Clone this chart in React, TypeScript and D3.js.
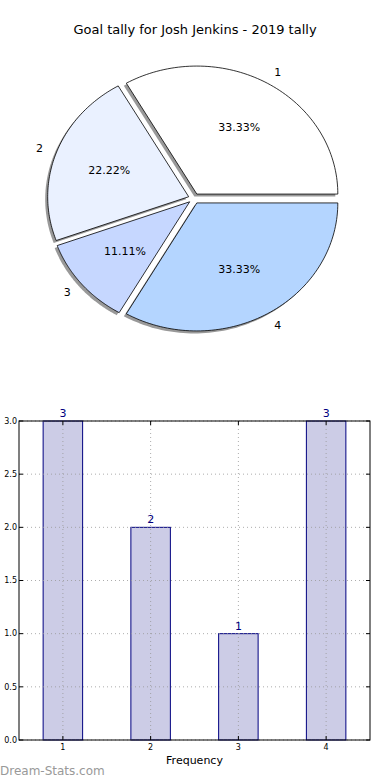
import React from "react";
import * as d3 from "d3";

const sliceLabels = ["1", "2", "3", "4"];
const sliceValues = [3, 2, 1, 3];
const sliceColors = ["#ffffff", "#eaf1ff", "#c6d7ff", "#b4d5ff"];
const barCategories = [1, 2, 3, 4];
const barValues = [3, 2, 1, 3];
const yTicks = [0, 0.5, 1.0, 1.5, 2.0, 2.5, 3.0];

const W = 390;
const H = 780;

export default function App() {
  // Pie geometry (elliptical, matplotlib-like)
  const cx = 194;
  const cy = 198.5;
  const rx = 141;
  const ry = 128;
  const explode = 0.04;
  const total = d3.sum(sliceValues);
  const angleScale = d3.scaleLinear().domain([0, total]).range([0, 2 * Math.PI]);
  let acc = 0;
  const slices = sliceValues.map((v, i) => {
    const a0 = angleScale(acc);
    acc += v;
    const a1 = angleScale(acc);
    return { a0, a1, v, i };
  });
  const pt = (a: number, r: number, ox: number, oy: number) => [
    ox + r * rx * Math.cos(a),
    oy - r * ry * Math.sin(a),
  ];
  const slicePath = (a0: number, a1: number, ox: number, oy: number) => {
    const steps = 80;
    const p = d3.path();
    p.moveTo(ox, oy);
    for (let k = 0; k <= steps; k++) {
      const a = a0 + ((a1 - a0) * k) / steps;
      const [x, y] = pt(a, 1, ox, oy);
      p.lineTo(x, y);
    }
    p.closePath();
    return p.toString();
  };

  // Bar chart geometry
  const left = 19;
  const right = 370;
  const top = 421;
  const bottom = 740;
  const x = d3.scaleLinear().domain([0.5, 4.5]).range([left, right]);
  const y = d3.scaleLinear().domain([0, 3]).range([bottom, top]);
  const bw = x(0.45) - x(0);

  return (
    <svg width={W} height={H} style={{ display: "block", position: "absolute", left: 0, top: 0 }} fontFamily="DejaVu Sans">
      <rect width={W} height={H} fill="#fff" />
      <text x={195} y={34} textAnchor="middle" fontSize={13} fill="#000">
        Goal tally for Josh Jenkins - 2019 tally
      </text>
      {/* shadows */}
      {slices.map((s) => {
        const mid = (s.a0 + s.a1) / 2;
        const ox = cx + explode * rx * Math.cos(mid);
        const oy = cy - explode * ry * Math.sin(mid);
        return (
          <path key={"sh" + s.i} d={slicePath(s.a0, s.a1, ox - 2.5, oy + 2.5)} fill="#555" opacity={0.6} />
        );
      })}
      {slices.map((s) => {
        const mid = (s.a0 + s.a1) / 2;
        const ox = cx + explode * rx * Math.cos(mid);
        const oy = cy - explode * ry * Math.sin(mid);
        return (
          <path key={"sl" + s.i} d={slicePath(s.a0, s.a1, ox, oy)} fill={sliceColors[s.i]} stroke="#000" strokeWidth={0.8} strokeLinejoin="round" />
        );
      })}
      {slices.map((s) => {
        const mid = (s.a0 + s.a1) / 2;
        const ox = cx + explode * rx * Math.cos(mid);
        const oy = cy - explode * ry * Math.sin(mid);
        const [lx, ly] = pt(mid, 1.1, ox, oy);
        const [px, py] = pt(mid, 0.6, ox, oy);
        const pct = ((s.v / total) * 100).toFixed(2) + "%";
        return (
          <g key={"lb" + s.i} fontSize={11} fill="#000">
            <text x={lx} y={ly} dy="0.35em" textAnchor={Math.cos(mid) > 0 ? "start" : "end"}>
              {sliceLabels[s.i]}
            </text>
            <text x={px} y={py} dy="0.35em" textAnchor="middle">
              {pct}
            </text>
          </g>
        );
      })}

      {/* Bar chart */}
      {barCategories.map((c, i) => (
        <rect key={"b" + c} x={x(c) - bw / 2} y={y(barValues[i])} width={bw} height={bottom - y(barValues[i])} fill="#ccccE6" stroke="#000080" strokeWidth={1} />
      ))}
      {/* grid */}
      {yTicks.map((t) => (
        <line key={"gy" + t} x1={left} x2={right} y1={y(t)} y2={y(t)} stroke="#999" strokeDasharray="1,3" strokeWidth={1} opacity={0.8} />
      ))}
      {barCategories.map((c) => (
        <line key={"gx" + c} x1={x(c)} x2={x(c)} y1={top} y2={bottom} stroke="#999" strokeDasharray="1,3" strokeWidth={1} opacity={0.8} />
      ))}
      <rect x={left} y={top} width={right - left} height={bottom - top} fill="none" stroke="#000" strokeWidth={1} />
      {/* ticks */}
      {yTicks.map((t) => (
        <g key={"ty" + t}>
          <line x1={left} x2={left + 4} y1={y(t)} y2={y(t)} stroke="#000" />
          <line x1={right} x2={right - 4} y1={y(t)} y2={y(t)} stroke="#000" />
          <text x={left - 2} y={y(t)} dy="0.35em" textAnchor="end" fontSize={8} fill="#000">
            {t.toFixed(1)}
          </text>
        </g>
      ))}
      {barCategories.map((c) => (
        <g key={"tx" + c}>
          <line x1={x(c)} x2={x(c)} y1={bottom} y2={bottom - 4} stroke="#000" />
          <line x1={x(c)} x2={x(c)} y1={top} y2={top + 4} stroke="#000" />
          <text x={x(c)} y={bottom + 10} textAnchor="middle" fontSize={8} fill="#000">
            {c}
          </text>
        </g>
      ))}
      {barCategories.map((c, i) => (
        <text key={"v" + c} x={x(c)} y={y(barValues[i]) - 4} textAnchor="middle" fontSize={11} fill="#000080">
          {barValues[i]}
        </text>
      ))}
      <text x={(left + right) / 2} y={764} textAnchor="middle" fontSize={11} fill="#000">
        Frequency
      </text>
      <text x={0} y={775} fontSize={12} fill="#999">
        Dream-Stats.com
      </text>
    </svg>
  );
}
